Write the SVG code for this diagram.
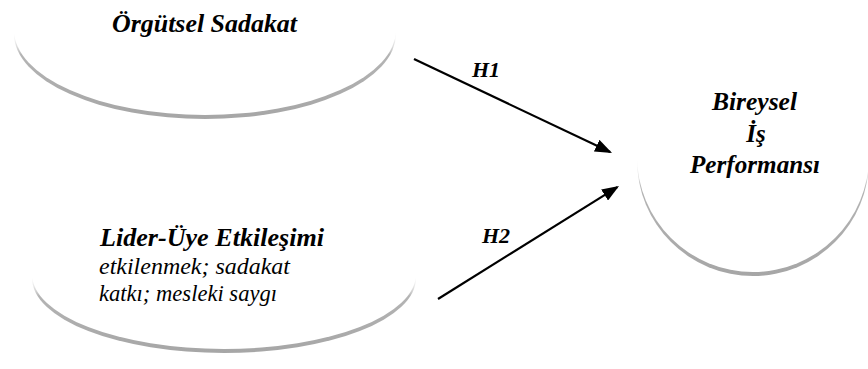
<svg xmlns="http://www.w3.org/2000/svg" width="868" height="369" viewBox="0 0 868 369">
<defs>
<linearGradient id="sh" x1="0" y1="0" x2="0" y2="1">
<stop offset="0.47" stop-color="#ffffff" stop-opacity="0"/>
<stop offset="0.62" stop-color="#b4b4b4"/>
<stop offset="1" stop-color="#a6a6a6"/>
</linearGradient>
<marker id="ah" markerUnits="userSpaceOnUse" markerWidth="17" markerHeight="13" refX="15" refY="6.5" orient="auto">
<path d="M0,0 L17,6.5 L0,13 z" fill="#000"/>
</marker>
<style>
.sh{fill:url(#sh);}
.bd{fill:#fff;}
.t{font-family:"Liberation Serif","Times New Roman",serif;font-style:italic;fill:#000;}
.b{font-weight:bold;}
.c{stroke:#000;stroke-width:2.2;fill:none;marker-end:url(#ah);}
</style>
</defs>
<rect width="868" height="369" fill="#fff"/>
<g id="orgutsel-sadakat">
<ellipse class="sh" cx="205" cy="34" rx="191" ry="85"/>
<ellipse class="bd" cx="205" cy="30" rx="191" ry="85"/>
<text class="t b" x="112" y="32" font-size="25" textLength="185" lengthAdjust="spacingAndGlyphs">Örgütsel Sadakat</text>
</g>
<g id="lider-uye">
<ellipse class="sh" cx="224" cy="278" rx="192" ry="75"/>
<ellipse class="bd" cx="224" cy="274" rx="192" ry="75"/>
<text class="t b" x="100" y="246" font-size="25" textLength="224" lengthAdjust="spacingAndGlyphs">Lider-Üye Etkileşimi</text>
<text class="t" x="99" y="274" font-size="24" textLength="191" lengthAdjust="spacingAndGlyphs">etkilenmek; sadakat</text>
<text class="t" x="99" y="301" font-size="24" textLength="178" lengthAdjust="spacingAndGlyphs">katkı; mesleki saygı</text>
</g>
<g id="bireysel-is-performansi">
<circle class="sh" cx="753" cy="160" r="116"/>
<circle class="bd" cx="753" cy="156" r="116"/>
<text class="t b" x="712" y="110" font-size="25" textLength="85" lengthAdjust="spacingAndGlyphs">Bireysel</text>
<text class="t b" x="756" y="142" font-size="25" text-anchor="middle">İş</text>
<text class="t b" x="690" y="173" font-size="25" textLength="130" lengthAdjust="spacingAndGlyphs">Performansı</text>
</g>
<g id="connectors">
<line class="c" x1="414" y1="59" x2="610.2" y2="152.1"/>
<line class="c" x1="438" y1="299" x2="617.3" y2="187.1"/>
<text class="t b" x="472" y="77" font-size="22">H1</text>
<text class="t b" x="482" y="243" font-size="22">H2</text>
</g>
</svg>
